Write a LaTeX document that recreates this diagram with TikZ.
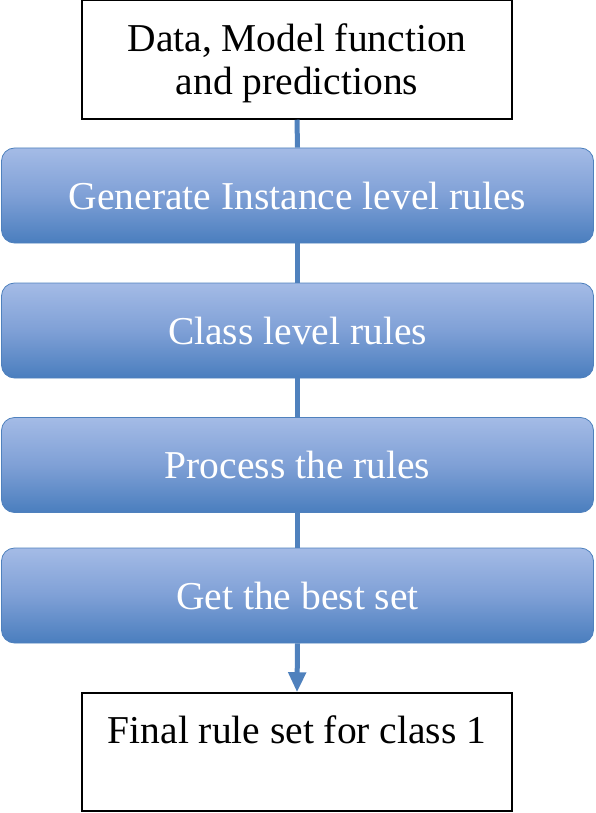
\documentclass[tikz,border=0pt]{standalone}
\usepackage{fontspec}
\setmainfont{Liberation Serif}[Ligatures=TeX]
\usetikzlibrary{arrows.meta}
\definecolor{blueTop}{HTML}{A4BBE6}
\definecolor{blueMid}{HTML}{7FA0D6}
\definecolor{blueBot}{HTML}{4A7EBE}
\definecolor{blueLine}{HTML}{4F81BD}
\tikzset{
  whitebox/.style={draw=black, line width=1.5pt, fill=white, minimum width=430pt, inner sep=0pt},
  bluebox/.style={draw=blueLine, line width=0.8pt, rounded corners=13pt, minimum width=592pt, minimum height=95pt,
    top color=blueTop, bottom color=blueBot, middle color=blueMid, text=white, inner sep=0pt,
    font=\fontsize{39.5}{43}\selectfont},
  blacktext/.style={font=\fontsize{39.5}{43}\selectfont, text=black, align=center, inner sep=0pt},
  link/.style={draw=blueLine, line width=5pt},
}
\begin{document}
\begin{tikzpicture}[x=1pt,y=-1pt]
\useasboundingbox (0,0) rectangle (596,813);
\node[whitebox, minimum height=119pt] (data) at (297,59.5) {};
\node[blacktext, anchor=base] (datatext) at (297,52) {Data, Model function};
\node[blacktext, anchor=base] (datatext2) at (297,95) {and predictions};
\node[bluebox] (gen) at (297.5,195.5) {Generate Instance level rules};
\node[bluebox] (cls) at (297.5,330.5) {Class level rules};
\node[bluebox] (proc) at (297.5,465) {Process the rules};
\node[bluebox] (best) at (297.5,595.5) {Get the best set};
\node[whitebox, minimum height=118pt] (final) at (297,752) {};
\node[blacktext, anchor=base] (finaltext) at (297,743) {Final rule set for class 1};
\draw[link] (data.south) -- (gen.north);
\draw[link] (gen.south) -- (cls.north);
\draw[link] (cls.south) -- (proc.north);
\draw[link] (proc.south) -- (best.north);
\draw[link, -{Triangle[length=20pt,width=17pt]}] (best.south) -- (final.north);
\end{tikzpicture}
\end{document}
